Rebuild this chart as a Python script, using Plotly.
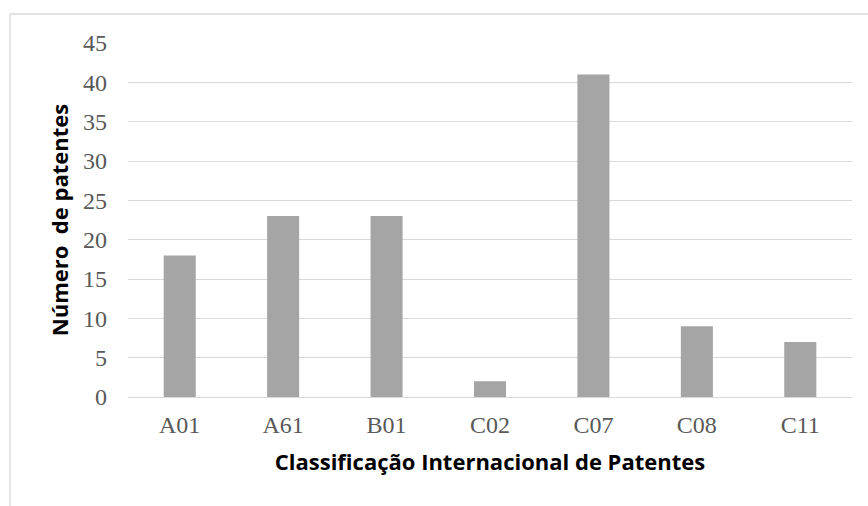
import plotly.graph_objects as go

# Patent counts by International Patent Classification
categorias = ["A01", "A61", "B01", "C02", "C07", "C08", "C11"]
patentes = [18, 23, 23, 2, 41, 9, 7]
y_ticks = [0, 5, 10, 15, 20, 25, 30, 35, 40, 45]

W, H = 868, 506
L, R, T, B = 128, 16, 43, 109
pw, ph = W - L - R, H - T - B


def px_to_paper_x(px):
    return (px - L) / pw


def px_to_paper_y(py):
    return (H - B - py) / ph


fig = go.Figure(
    go.Bar(
        x=categorias,
        y=patentes,
        marker=dict(color="#A5A5A5", line=dict(width=0)),
        width=0.31,
    )
)

tick_font = dict(family="Liberation Serif", size=24, color="#595959")
title_font = dict(family="Open Sans", size=22, color="#000000", weight="bold")

fig.update_layout(
    width=W,
    height=H,
    margin=dict(l=L, r=R, t=T, b=B),
    paper_bgcolor="white",
    plot_bgcolor="white",
    showlegend=False,
    xaxis=dict(
        showgrid=False,
        showline=False,
        zeroline=False,
        ticks="",
        tickfont=tick_font,
        ticklabelstandoff=11,
        title=dict(
            text="Classificação Internacional de Patentes",
            font=title_font,
            standoff=17,
        ),
    ),
    yaxis=dict(
        range=[0, 45],
        tickvals=y_ticks,
        showgrid=True,
        gridcolor="#D9D9D9",
        gridwidth=1.3,
        zeroline=True,
        zerolinecolor="#D9D9D9",
        zerolinewidth=1.3,
        showline=False,
        ticks="",
        ticklabelstandoff=20,
        tickfont=tick_font,
        title=dict(
            text="Número\u00a0 de patentes",
            font=title_font,
            standoff=8,
        ),
    ),
    shapes=[
        dict(
            type="rect",
            xref="paper",
            yref="paper",
            x0=px_to_paper_x(10),
            x1=px_to_paper_x(890),
            y0=px_to_paper_y(530),
            y1=px_to_paper_y(14),
            line=dict(color="#D9D9D9", width=1.3),
            fillcolor="rgba(0,0,0,0)",
            layer="below",
        )
    ],
)

fig.write_html("out.html")
